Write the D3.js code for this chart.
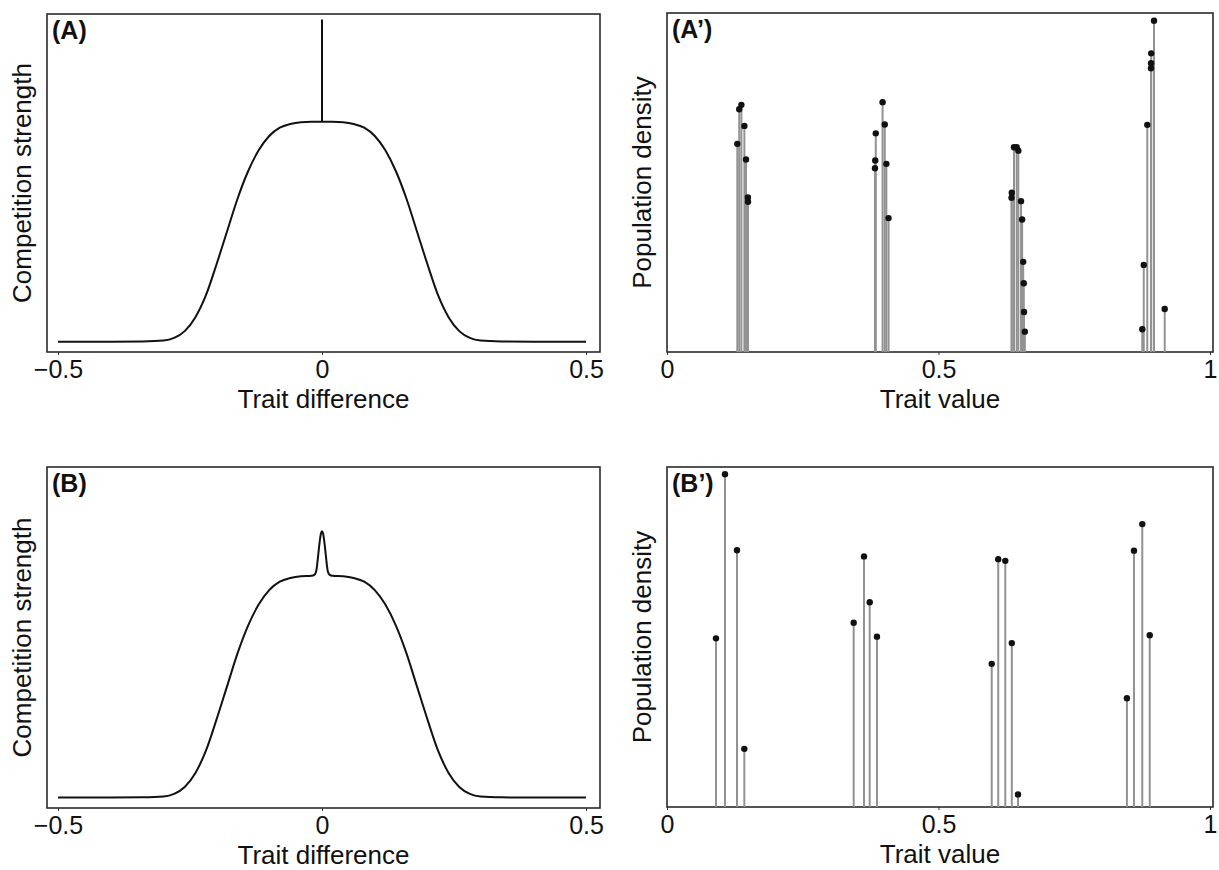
<!DOCTYPE html>
<html>
<head>
<meta charset="utf-8">
<title>Competition kernels and trait distributions</title>
<script src="https://cdn.jsdelivr.net/npm/d3@7"></script>
<style>
  body { margin: 0; background: #fff; }
  svg { font-family: "Liberation Sans", Arial, sans-serif; }
  .frame { fill: none; stroke: #2a2a2a; stroke-width: 1.6; }
  .kernel { fill: none; stroke: #111; stroke-width: 2; }
  .stem { stroke: #929292; stroke-width: 2; }
  .dot { fill: #111; }
  .tick text { font-size: 25px; fill: #111; }
  .tick line { stroke: #333; }
  .title { font-size: 26px; fill: #111; }
  .tag { font-size: 25px; font-weight: bold; fill: #111; }
</style>
</head>
<body>
<svg width="1219" height="870"></svg>
<script>
// kernel (A): trait difference vs competition strength, plus a delta spike at 0
var traitDiffA = [-0.5, -0.4, -0.34, -0.3, -0.28, -0.26, -0.24, -0.22, -0.2, -0.18, -0.16, -0.14, -0.12, -0.1, -0.08, -0.06, -0.04, -0.02, 0,
                  0.02, 0.04, 0.06, 0.08, 0.1, 0.12, 0.14, 0.16, 0.18, 0.2, 0.22, 0.24, 0.26, 0.28, 0.3, 0.34, 0.4, 0.5];
var competitionA = [0, 0, 0.001, 0.005, 0.017, 0.048, 0.11, 0.21, 0.35, 0.5, 0.65, 0.775, 0.87, 0.935, 0.973, 0.99, 0.998, 1, 1,
                    1, 0.998, 0.99, 0.973, 0.935, 0.87, 0.775, 0.65, 0.5, 0.35, 0.21, 0.11, 0.048, 0.017, 0.005, 0.001, 0, 0];
var spikeA = [1, 1.465];

// kernel (B): same shape with a narrow bump at 0
var traitDiffB = [-0.5, -0.4, -0.34, -0.3, -0.28, -0.26, -0.24, -0.22, -0.2, -0.18, -0.16, -0.14, -0.12, -0.1, -0.08, -0.06, -0.04, -0.02,
                  -0.014, -0.011, -0.008, -0.006, -0.004, -0.002, 0, 0.002, 0.004, 0.006, 0.008, 0.011, 0.014,
                  0.02, 0.04, 0.06, 0.08, 0.1, 0.12, 0.14, 0.16, 0.18, 0.2, 0.22, 0.24, 0.26, 0.28, 0.3, 0.34, 0.4, 0.5];
var competitionB = [0, 0, 0.001, 0.005, 0.017, 0.048, 0.11, 0.21, 0.35, 0.5, 0.65, 0.775, 0.87, 0.935, 0.973, 0.99, 0.998, 1,
                    1.005, 1.02, 1.075, 1.12, 1.16, 1.19, 1.2, 1.19, 1.16, 1.12, 1.075, 1.02, 1.005,
                    1, 0.998, 0.99, 0.973, 0.935, 0.87, 0.775, 0.65, 0.5, 0.35, 0.21, 0.11, 0.048, 0.017, 0.005, 0.001, 0, 0];

// (A') population: trait value and density of each morph
var traitA2 = [0.1295, 0.133, 0.137, 0.1425, 0.1455, 0.149, 0.1492,
               0.3845, 0.3835, 0.383, 0.397, 0.401, 0.404, 0.408,
               0.635, 0.6345, 0.639, 0.644, 0.647, 0.652, 0.654, 0.656, 0.657, 0.6575, 0.659,
               0.8753, 0.878, 0.8845, 0.8913, 0.8915, 0.8917, 0.8969, 0.9166];
var densityA2 = [0.614, 0.716, 0.729, 0.667, 0.568, 0.456, 0.443,
                 0.645, 0.565, 0.542, 0.737, 0.671, 0.555, 0.395,
                 0.47, 0.455, 0.604, 0.604, 0.594, 0.445, 0.391, 0.266, 0.203, 0.118, 0.06,
                 0.067, 0.257, 0.67, 0.837, 0.852, 0.881, 0.977, 0.127];

// (B') population
var traitB2 = [0.0902, 0.1068, 0.1289, 0.1424,
               0.3438, 0.3628, 0.3733, 0.3867,
               0.598, 0.61, 0.623, 0.635, 0.6464,
               0.847, 0.86, 0.8753, 0.889];
var densityB2 = [0.496, 0.979, 0.755, 0.171,
                 0.542, 0.737, 0.602, 0.501,
                 0.421, 0.729, 0.724, 0.482, 0.037,
                 0.32, 0.754, 0.832, 0.505];

var diffTicks = [-0.5, 0, 0.5];
var valueTicks = [0, 0.5, 1];

var svg = d3.select('svg');

function fmt(d) {
  return d < 0 ? '\u2212' + Math.abs(d) : String(d);
}

function panel(box, xDomain, xRange, yDomain, ticks, xTitle, yTitle, tag) {
  var g = svg.append('g');
  var x = d3.scaleLinear().domain(xDomain).range(xRange);
  var y = d3.scaleLinear().domain(yDomain).range([box.bottom, box.top]);

  var axis = g.append('g')
    .attr('transform', 'translate(0,' + box.bottom + ')')
    .call(d3.axisBottom(x).tickValues(ticks).tickFormat(fmt).tickSize(3).tickPadding(5));
  axis.select('.domain').remove();

  g.append('rect').attr('class', 'frame')
    .attr('x', box.left).attr('y', box.top)
    .attr('width', box.right - box.left).attr('height', box.bottom - box.top);

  g.append('text').attr('class', 'title')
    .attr('text-anchor', 'middle')
    .attr('x', (box.left + box.right) / 2)
    .attr('y', box.bottom + 56)
    .text(xTitle);

  g.append('text').attr('class', 'title')
    .attr('text-anchor', 'middle')
    .attr('transform', 'translate(' + (box.left - 16) + ',' + ((box.top + box.bottom) / 2) + ') rotate(-90)')
    .text(yTitle);

  g.append('text').attr('class', 'tag')
    .attr('x', box.left + 5).attr('y', box.top + 25)
    .text(tag);

  return { g: g, x: x, y: y };
}

function kernelPanel(box, xs, ys, tag, spike) {
  var p = panel(box, [-0.5, 0.5], [box.left + 11, box.right - 14], [-0.047, 1.49],
    diffTicks, 'Trait difference', 'Competition strength', tag);
  var pts = xs.map(function(d, i) { return [d, ys[i]]; });
  var line = d3.line()
    .x(function(d) { return p.x(d[0]); })
    .y(function(d) { return p.y(d[1]); })
    .curve(d3.curveMonotoneX);
  p.g.append('path').attr('class', 'kernel').attr('d', line(pts));
  if (spike) {
    p.g.append('line').attr('class', 'kernel')
      .attr('x1', p.x(0)).attr('x2', p.x(0))
      .attr('y1', p.y(spike[0])).attr('y2', p.y(spike[1]));
  }
}

function stemPanel(box, xs, ys, tag) {
  var p = panel(box, [0, 1], [box.left, box.right - 3], [0, 1],
    valueTicks, 'Trait value', 'Population density', tag);
  var pts = xs.map(function(d, i) { return [d, ys[i]]; });
  p.g.selectAll('line.stem').data(pts).enter().append('line')
    .attr('class', 'stem')
    .attr('x1', function(d) { return p.x(d[0]); })
    .attr('x2', function(d) { return p.x(d[0]); })
    .attr('y1', p.y(0))
    .attr('y2', function(d) { return p.y(d[1]); });
  p.g.selectAll('circle.dot').data(pts).enter().append('circle')
    .attr('class', 'dot')
    .attr('cx', function(d) { return p.x(d[0]); })
    .attr('cy', function(d) { return p.y(d[1]); })
    .attr('r', 3.2);
}

kernelPanel({ left: 47, right: 600, top: 14, bottom: 352 }, traitDiffA, competitionA, '(A)', spikeA);
stemPanel({ left: 667, right: 1213, top: 13, bottom: 352 }, traitA2, densityA2, '(A\u2019)');
kernelPanel({ left: 47, right: 600, top: 467, bottom: 808 }, traitDiffB, competitionB, '(B)', null);
stemPanel({ left: 667, right: 1213, top: 467, bottom: 807 }, traitB2, densityB2, '(B\u2019)');
</script>
</body>
</html>
